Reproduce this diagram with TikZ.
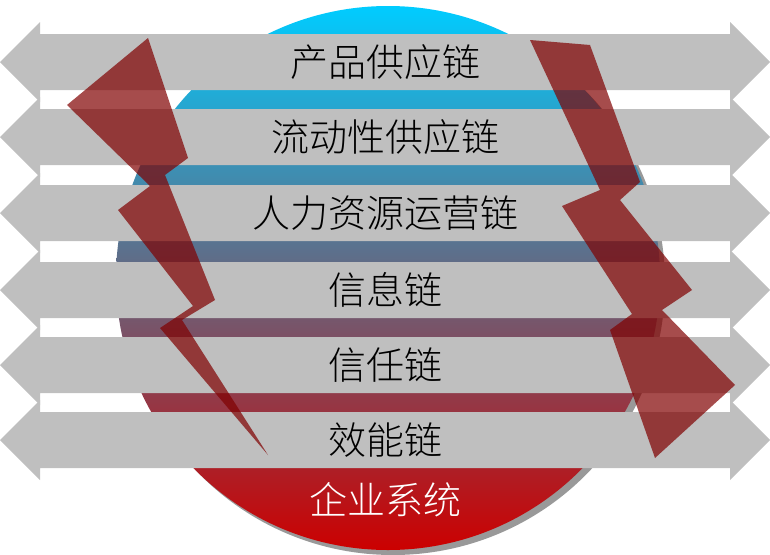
\documentclass[tikz,border=0pt]{standalone}
\usepackage{fontspec}
\newfontfamily\cjk{Noto Sans CJK SC Light}
\usetikzlibrary{positioning}

\begin{document}
\begin{tikzpicture}[x=1pt, y=-1pt,
                    chain/.style = {fill = black!25},
                    bolt/.style = {fill = red!50!black, opacity = 0.7},
                    lbl/.style = {font = \cjk\fontsize{38}{38}\selectfont, text = black}]
\useasboundingbox (0,0) rectangle (770,554);

% system circle
\fill[black!40] (393,283) circle (272);
\shade[top color = cyan!80!blue, middle color = blue!45!red!55!white,
       bottom color = red!80!black] (388,278) circle (272);

% chains
\foreach \c/\t [count=\i] in {62/产品供应链, 137/流动性供应链, 213/人力资源运营链,
                               290/信息链, 365/信任链, 440/效能链} {
  \fill[chain] (0,\c) -- (40,\c-40) -- (40,\c-28) -- (730,\c-28) -- (730,\c-40)
               -- (770,\c) -- (730,\c+40) -- (730,\c+28) -- (40,\c+28)
               -- (40,\c+40) -- cycle;
  \node[lbl] (chain\i) at (385,\c) {\t};
}

% lightning bolts
\fill[bolt] (67,105) -- (148,38) -- (188,158) -- (165,175) -- (215,300)
            -- (182,320) -- (268,455) -- (160,328) -- (193,306) -- (118,210)
            -- (150,186) -- cycle;
\fill[bolt] (530,40) -- (590,45) -- (640,182) -- (620,200) -- (692,290)
            -- (662,310) -- (735,385) -- (655,458) -- (610,330) -- (632,314)
            -- (562,206) -- (600,190) -- cycle;

\node[lbl, text = white] (sys) at (385,500) {企业系统};
\end{tikzpicture}
\end{document}
